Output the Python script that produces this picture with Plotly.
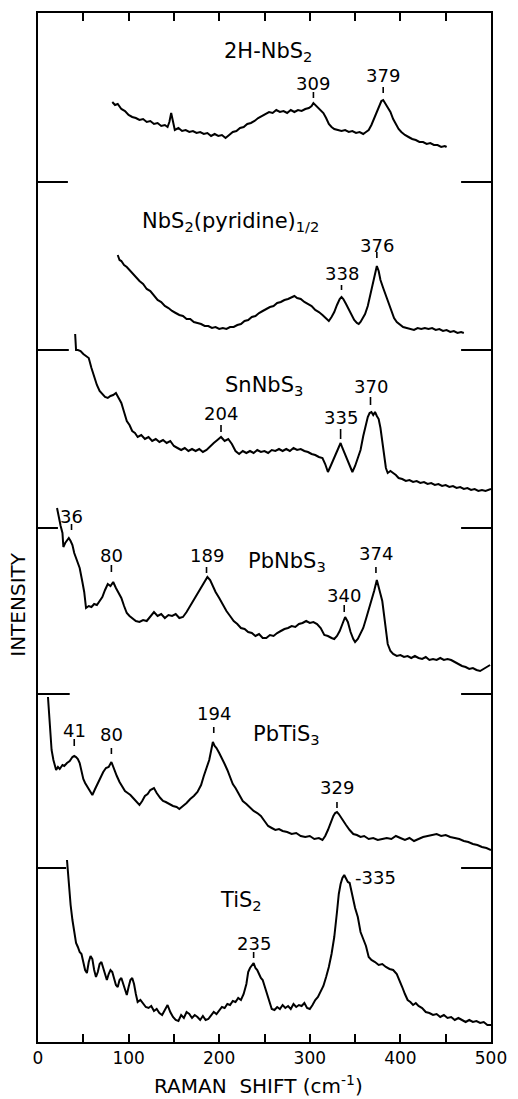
import plotly.graph_objects as go

FONT = "DejaVu Sans"

# ---- spectra: (Raman shift cm-1, intensity in arbitrary units above panel base) ----
spec_2h_nbs2 = [(82,80),(85,77),(88,78),(92,73),(96,71),(100,67),(104,65),(108,64),(112,62),(116,63),(120,60),(124,61),(128,58),(132,59),(136,56),(140,57),(143,55),(145,60),(147,69),(149,60),(151,52),(155,54),(159,51),(163,52),(167,50),(171,51),(175,49),(179,50),(183,48),(187,49),(191,46),(195,48),(199,46),(203,47),(207,44),(211,47),(215,50),(219,51),(223,54),(227,55),(231,58),(235,59),(239,61),(243,64),(247,66),(251,68),(255,70),(259,69),(263,72),(267,70),(271,71),(275,69),(279,72),(283,70),(287,72),(291,71),(295,73),(299,74),(302,76),(304,79),(306,77),(309,75),(312,72),(315,69),(318,64),(321,58),(324,55),(327,53),(331,52),(335,51),(339,52),(343,50),(347,51),(351,49),(355,50),(359,48),(362,50),(365,52),(368,57),(371,64),(374,71),(377,77),(379,81),(381,82),(383,79),(386,75),(389,70),(392,63),(395,58),(398,53),(401,50),(405,47),(409,45),(413,43),(417,42),(421,40),(425,40),(429,38),(433,39),(437,37),(441,37),(445,35),(449,36),(451,35)]

spec_nbs2_pyr = [(88,95),(90,90),(92,89),(95,85),(98,83),(101,80),(104,76),(108,73),(112,69),(116,66),(120,61),(124,59),(128,55),(132,50),(136,48),(140,44),(144,42),(148,39),(152,37),(156,35),(160,34),(164,31),(168,31),(172,28),(176,27),(180,26),(184,24),(188,24),(192,22),(196,23),(200,21),(204,22),(208,21),(212,23),(216,23),(220,25),(224,26),(228,29),(232,30),(236,33),(240,34),(244,37),(248,39),(252,41),(256,43),(260,44),(264,47),(268,48),(272,50),(276,51),(280,53),(283,54),(286,52),(290,51),(294,48),(298,46),(302,44),(306,40),(310,38),(314,35),(318,31),(321,29),(324,33),(327,38),(330,45),(333,51),(335,53),(337,51),(340,46),(343,41),(346,35),(349,30),(352,27),(354,26),(356,28),(358,31),(361,36),(364,44),(367,56),(370,70),(372,78),(374,84),(376,79),(378,70),(381,62),(384,54),(387,46),(390,38),(393,32),(396,28),(399,26),(403,23),(407,22),(411,21),(415,20),(419,22),(423,21),(427,22),(431,21),(435,22),(439,20),(443,21),(447,19),(451,20),(455,18),(459,19),(463,17),(467,18),(470,17)]

spec_snnbs3 = [(41,194),(42,178),(44,178),(47,177),(50,174),(53,172),(56,170),(59,160),(62,151),(65,143),(68,137),(71,134),(74,131),(77,130),(80,132),(83,133),(86,135),(89,130),(92,125),(95,116),(98,107),(101,103),(104,97),(107,95),(110,91),(114,93),(118,89),(122,91),(126,87),(130,89),(134,86),(138,88),(142,85),(146,87),(150,82),(154,80),(158,78),(162,80),(166,77),(170,79),(174,77),(178,79),(182,76),(186,78),(190,82),(194,85),(198,88),(202,91),(206,87),(210,89),(214,84),(218,77),(222,74),(226,77),(230,75),(234,77),(238,75),(242,78),(246,76),(250,77),(254,75),(258,78),(262,77),(266,79),(270,77),(274,79),(278,77),(282,80),(286,78),(290,79),(294,77),(298,76),(302,74),(306,73),(310,71),(314,70),(317,64),(320,56),(323,62),(326,68),(329,75),(332,81),(334,85),(336,80),(339,73),(342,67),(345,60),(347,56),(350,62),(353,70),(356,78),(359,92),(362,105),(364,111),(366,115),(368,116),(370,113),(372,116),(374,112),(376,109),(378,100),(380,88),(382,72),(384,60),(386,55),(389,57),(392,55),(395,53),(398,50),(402,49),(406,47),(410,48),(414,46),(418,47),(422,45),(426,46),(430,44),(434,45),(438,43),(442,44),(446,42),(450,43),(454,41),(458,42),(462,40),(466,41),(470,39),(474,40),(478,38),(482,39),(486,37),(490,38),(494,37),(497,38),(500,39)]

spec_pbnbs3 = [(21,186),(23,175),(25,168),(27,161),(28,147),(30,151),(32,154),(34,156),(36,153),(38,149),(40,141),(43,133),(46,126),(49,112),(51,102),(53,86),(56,88),(59,87),(62,90),(65,89),(68,93),(71,97),(74,104),(77,110),(80,108),(83,112),(86,106),(89,101),(92,96),(95,88),(98,81),(101,78),(104,76),(108,73),(112,72),(116,74),(120,73),(124,78),(128,82),(132,78),(136,80),(140,76),(144,79),(148,78),(152,80),(156,76),(160,77),(164,82),(168,88),(172,94),(176,100),(180,107),(184,113),(187,117),(190,114),(193,108),(196,102),(200,96),(204,89),(208,83),(212,78),(216,73),(220,70),(224,66),(228,65),(232,62),(236,61),(240,58),(244,60),(248,56),(252,56),(256,59),(260,58),(264,61),(268,63),(272,65),(276,66),(280,68),(284,67),(288,70),(292,71),(296,73),(300,71),(304,72),(308,70),(312,66),(316,59),(320,58),(324,56),(327,55),(330,58),(333,63),(336,70),(339,77),(342,72),(345,62),(348,55),(350,52),(353,55),(356,60),(359,66),(362,75),(365,84),(368,93),(371,103),(374,114),(376,108),(378,100),(380,93),(382,80),(384,62),(386,50),(389,43),(392,40),(396,38),(400,39),(404,37),(408,38),(412,36),(416,38),(420,36),(424,35),(428,37),(432,34),(436,35),(440,34),(444,36),(448,34),(452,35),(456,34),(460,32),(464,30),(468,28),(472,27),(476,25),(480,26),(484,24),(488,23),(492,25),(496,27),(499,29)]

spec_pbtis3 = [(11,171),(12,160),(13,147),(14,131),(15,118),(17,108),(20,98),(22,101),(24,99),(27,103),(29,102),(32,105),(35,107),(38,111),(40,112),(42,111),(44,109),(46,105),(48,96),(50,89),(52,85),(55,80),(58,76),(60,73),(63,79),(66,85),(69,91),(72,96),(75,100),(78,101),(81,106),(84,98),(87,92),(90,86),(93,82),(96,77),(99,75),(102,73),(105,70),(108,67),(112,63),(115,67),(118,72),(121,74),(124,78),(128,80),(131,75),(135,70),(138,67),(141,66),(145,64),(149,62),(153,61),(156,59),(160,62),(164,65),(168,69),(172,72),(176,76),(180,83),(183,92),(186,100),(189,108),(191,117),(193,126),(195,122),(197,120),(200,115),(203,110),(206,104),(209,98),(212,91),(215,84),(218,80),(222,73),(226,67),(230,64),(234,60),(238,57),(242,55),(246,52),(250,47),(254,42),(258,40),(262,38),(266,39),(270,37),(275,36),(280,34),(285,35),(290,32),(295,31),(300,32),(305,29),(310,30),(314,28),(317,32),(320,38),(323,46),(326,52),(328,55),(330,56),(332,54),(334,51),(337,47),(340,43),(344,38),(348,34),(352,33),(356,31),(360,32),(365,29),(370,30),(375,28),(380,29),(385,30),(390,29),(395,32),(400,30),(405,28),(410,30),(415,27),(420,29),(425,31),(430,32),(435,33),(440,34),(445,32),(450,33),(455,31),(460,30),(465,29),(470,27),(475,26),(480,24),(485,23),(490,21),(495,20),(500,18)]

spec_tis2 = [(32,182),(33,170),(34,160),(35,145),(36,137),(38,122),(40,108),(42,99),(44,95),(46,90),(48,88),(50,80),(52,72),(54,69),(56,80),(58,86),(60,83),(62,72),(64,65),(66,70),(68,78),(70,80),(72,74),(74,66),(76,62),(78,68),(80,72),(82,70),(84,63),(86,57),(88,55),(90,62),(92,64),(94,58),(96,52),(98,47),(100,55),(102,62),(104,64),(106,58),(108,48),(110,40),(113,42),(116,38),(119,35),(122,34),(125,36),(128,31),(131,33),(134,29),(137,27),(140,32),(143,37),(146,30),(149,25),(152,22),(155,21),(158,27),(161,24),(164,30),(167,28),(170,24),(173,27),(176,25),(179,22),(182,26),(185,22),(188,23),(191,27),(194,30),(197,28),(200,32),(203,35),(206,34),(209,38),(212,37),(215,41),(218,40),(221,44),(224,42),(227,48),(230,58),(232,70),(234,74),(236,76),(238,79),(240,74),(242,72),(244,68),(246,64),(248,62),(250,56),(252,50),(254,45),(256,38),(258,33),(261,32),(264,35),(267,33),(270,37),(273,34),(276,36),(279,33),(282,38),(285,35),(288,37),(291,36),(294,39),(297,34),(300,33),(303,37),(306,42),(309,45),(312,50),(315,56),(318,65),(321,75),(324,88),(327,105),(330,130),(332,148),(334,158),(336,164),(338,167),(340,163),(342,160),(344,159),(346,150),(348,140),(350,134),(353,125),(356,110),(359,103),(362,96),(365,85),(368,82),(372,80),(376,77),(380,78),(384,75),(388,73),(392,72),(396,68),(399,62),(402,55),(405,48),(408,42),(411,40),(414,37),(417,39),(420,36),(424,34),(428,30),(432,29),(436,27),(440,28),(444,25),(448,27),(452,24),(456,25),(460,22),(464,24),(468,22),(472,20),(476,22),(480,20),(484,21),(488,19),(492,20),(496,17),(500,17)]

spectra = [spec_2h_nbs2, spec_nbs2_pyr, spec_snnbs3, spec_pbnbs3, spec_pbtis3, spec_tis2]
sample_names = ["2H-NbS<sub>2</sub>", "NbS<sub>2</sub>(pyridine)<sub>1/2</sub>", "SnNbS<sub>3</sub>",
                "PbNbS<sub>3</sub>", "PbTiS<sub>3</sub>", "TiS<sub>2</sub>"]
panel_offsets = [860, 692, 514, 348, 174, 0]
panel_top = 1029

# sample-name label placement (x in cm-1, y in plot units)
name_x = [254, 212, 249, 275, 274, 224]
name_y = [990, 820, 656, 480, 307, 141]

# peak marks: label text, x (cm-1), tick bottom, tick top, label centre y (plot units)
peak_text = ["309", "379", "338", "376", "204", "335", "370", "36", "80", "189", "340", "374",
             "41", "80", "194", "329", "235"]
peak_x = [304, 381, 335, 374, 202, 334, 367, 37, 81, 186, 338, 373, 40, 81, 194, 330, 238]
peak_tick_lo = [944, 949, 752, 784, 610, 603, 637, 512, 470, 469, 430, 469, 296, 288, 309, 234, 84]
peak_tick_hi = [950, 955, 757, 790, 617, 613, 645, 518, 477, 475, 437, 475, 303, 294, 315, 240, 90]
peak_text_y = [959, 967, 769, 797, 629, 625, 656, 526, 487, 487, 447, 489, 312, 308, 329, 255, 99]

fig = go.Figure()

for spec, off in zip(spectra, panel_offsets):
    xs = [p[0] for p in spec]
    ys = [p[1] + off for p in spec]
    fig.add_trace(go.Scatter(x=xs, y=ys, mode="lines",
                             line=dict(color="black", width=2),
                             hoverinfo="skip", showlegend=False))

shapes = []
left_len = [33, 34, 22, 35, 31]
for off, ll in zip(panel_offsets[:-1], left_len):
    shapes.append(dict(type="line", xref="x", yref="y", x0=0, x1=ll, y0=off, y1=off,
                       line=dict(color="black", width=2)))
    shapes.append(dict(type="line", xref="x", yref="y", x0=467, x1=500, y0=off, y1=off,
                       line=dict(color="black", width=2)))
for px, lo, hi in zip(peak_x, peak_tick_lo, peak_tick_hi):
    shapes.append(dict(type="line", xref="x", yref="y", x0=px, x1=px, y0=lo, y1=hi,
                       line=dict(color="black", width=1.6)))

annotations = []
for name, nx, ny in zip(sample_names, name_x, name_y):
    annotations.append(dict(x=nx, y=ny, xref="x", yref="y", text=name, showarrow=False,
                            xanchor="center", yanchor="middle",
                            font=dict(family=FONT, size=21, color="black")))
for t, px, ty in zip(peak_text, peak_x, peak_text_y):
    annotations.append(dict(x=px, y=ty, xref="x", yref="y", text=t, showarrow=False,
                            xanchor="center", yanchor="middle",
                            font=dict(family=FONT, size=18, color="black")))
annotations.append(dict(x=348, y=165, xref="x", yref="y", text="-335", showarrow=False,
                        xanchor="left", yanchor="middle",
                        font=dict(family=FONT, size=18, color="black")))
annotations.append(dict(x=-0.044, y=0.425, xref="paper", yref="paper", text="INTENSITY",
                        textangle=-90, showarrow=False, xanchor="center", yanchor="middle",
                        font=dict(family=FONT, size=20, color="black")))
annotations.append(dict(x=0.486, y=-0.042, xref="paper", yref="paper",
                        text="RAMAN  SHIFT (cm<sup>-1</sup>)", showarrow=False,
                        xanchor="center", yanchor="middle",
                        font=dict(family=FONT, size=20, color="black")))

fig.update_layout(
    width=518, height=1099,
    margin=dict(l=38, r=27, t=13, b=57),
    paper_bgcolor="white", plot_bgcolor="white",
    shapes=shapes, annotations=annotations,
    showlegend=False,
    xaxis=dict(range=[0, 500], tick0=0, dtick=100,
               ticks="inside", ticklen=8, tickwidth=2, tickcolor="black",
               minor=dict(dtick=50, ticks="inside", ticklen=8, tickwidth=2,
                          tickcolor="black", showgrid=False),
               showline=True, linewidth=2, linecolor="black", mirror="ticks",
               showgrid=False, zeroline=False,
               tickfont=dict(family=FONT, size=17, color="black")),
    yaxis=dict(range=[0, panel_top], showticklabels=False, ticks="",
               showline=True, linewidth=2, linecolor="black", mirror=True,
               showgrid=False, zeroline=False),
)

fig.write_html("out.html")
